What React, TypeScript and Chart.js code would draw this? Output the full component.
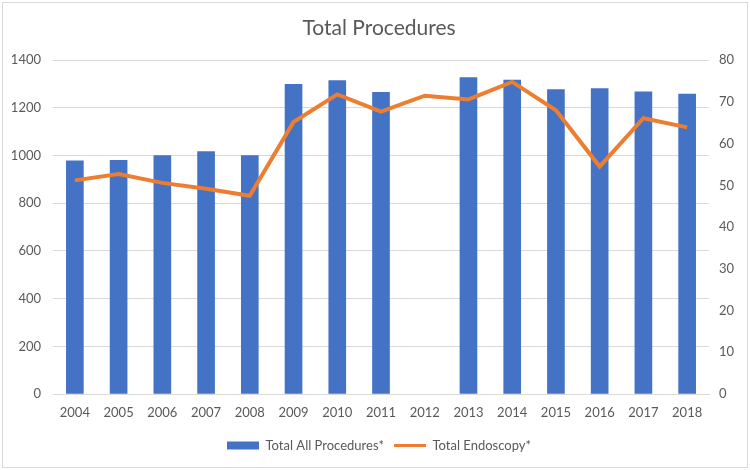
import React, { useEffect, useRef } from "react";
import { Chart, registerables } from "chart.js";

Chart.register(...registerables);

const years = ["2004","2005","2006","2007","2008","2009","2010","2011","2012","2013","2014","2015","2016","2017","2018"];
const totalAllProcedures = [978, 980, 1000, 1017, 1000, 1299, 1314, 1265, null, 1327, 1317, 1277, 1281, 1267, 1258];
const totalEndoscopy = [51.2, 52.7, 50.6, 49.2, 47.5, 65.2, 71.8, 67.7, 71.5, 70.6, 74.8, 68.0, 54.5, 66.1, 63.9];
const leftTicks = { min: 0, max: 1400, step: 200 };
const rightTicks = { min: 0, max: 80, step: 10 };

const FONT = "Lato, 'Noto Sans', sans-serif";
const TEXT = "#595959";
const GRID = "#d9d9d9";

const borderPlugin = {
  id: "outerBorder",
  beforeDraw(chart: any) {
    const ctx = chart.ctx;
    ctx.save();
    ctx.fillStyle = "#ffffff";
    ctx.fillRect(0, 0, chart.width, chart.height);
    ctx.strokeStyle = "#d9d9d9";
    ctx.lineWidth = 1;
    ctx.strokeRect(2.5, 2.5, chart.width - 5, chart.height - 5);
    ctx.restore();
  },
};

export default function App() {
  const ref = useRef<HTMLCanvasElement | null>(null);
  useEffect(() => {
    if (!ref.current) return;
    const chart = new Chart(ref.current, {
      type: "bar",
      data: {
        labels: years,
        datasets: [
          {
            type: "bar",
            label: "Total All Procedures*",
            data: totalAllProcedures,
            backgroundColor: "#4472C4",
            borderWidth: 0,
            barThickness: 17,
            yAxisID: "y",
            order: 2,
          },
          {
            type: "line",
            label: "Total Endoscopy*",
            data: totalEndoscopy,
            borderColor: "#ED7D31",
            backgroundColor: "#ED7D31",
            borderWidth: 4,
            pointRadius: 0,
            tension: 0,
            yAxisID: "y1",
            order: 1,
          },
        ],
      } as any,
      options: {
        animation: false,
        responsive: false,
        devicePixelRatio: 1,
        layout: { padding: { left: 8, right: 0, top: 0, bottom: 8 } },
        plugins: {
          title: {
            display: true,
            text: "Total Procedures",
            color: TEXT,
            font: { family: FONT, size: 21, weight: "normal" },
            padding: { top: 16, bottom: 19 },
          },
          legend: {
            position: "bottom",
            labels: {
              color: TEXT,
              font: { family: FONT, size: 13 },
              usePointStyle: true,
              pointStyleWidth: 32,
              boxHeight: 8,
              padding: 10,
              generateLabels(chart: any) {
                const items = Chart.defaults.plugins.legend.labels.generateLabels(chart);
                items.sort((a: any, b: any) => a.datasetIndex - b.datasetIndex);
                items.forEach((it: any) => {
                  if (it.datasetIndex === 0) {
                    it.pointStyle = "rect";
                    it.lineWidth = 0;
                    it.fillStyle = "#4472C4";
                    it.strokeStyle = "#4472C4";
                  } else {
                    it.pointStyle = "line";
                    it.lineWidth = 3;
                    it.strokeStyle = "#ED7D31";
                    it.fillStyle = "#ED7D31";
                  }
                });
                return items;
              },
            },
          },
          tooltip: { enabled: false },
        },
        scales: {
          x: {
            grid: { display: false },
            border: { display: true, color: GRID },
            ticks: { color: TEXT, font: { family: FONT, size: 13 }, padding: 3 },
            afterFit(scale: any) { scale.height = 35; },
          },
          y: {
            position: "left",
            min: leftTicks.min,
            max: leftTicks.max,
            ticks: {
              stepSize: leftTicks.step,
              color: TEXT,
              font: { family: FONT, size: 13 },
              padding: 12,
              callback: (v: any) => String(v),
            },
            grid: { color: GRID, drawTicks: false },
            border: { display: false },
            afterFit(scale: any) { scale.width = 45; },
          },
          y1: {
            position: "right",
            min: rightTicks.min,
            max: rightTicks.max,
            ticks: {
              stepSize: rightTicks.step,
              color: TEXT,
              font: { family: FONT, size: 13 },
              padding: 10,
              callback: (v: any) => String(v),
            },
            grid: { display: false, drawTicks: false },
            border: { display: false },
            afterFit(scale: any) { scale.width = 41; },
          },
        },
      } as any,
      plugins: [borderPlugin],
    });
    return () => chart.destroy();
  }, []);
  return (
    <div style={{ position: "fixed", left: 0, top: 0, width: 750, height: 470, background: "#fff" }}>
      <canvas ref={ref} width={750} height={470} style={{ display: "block" }} />
    </div>
  );
}
